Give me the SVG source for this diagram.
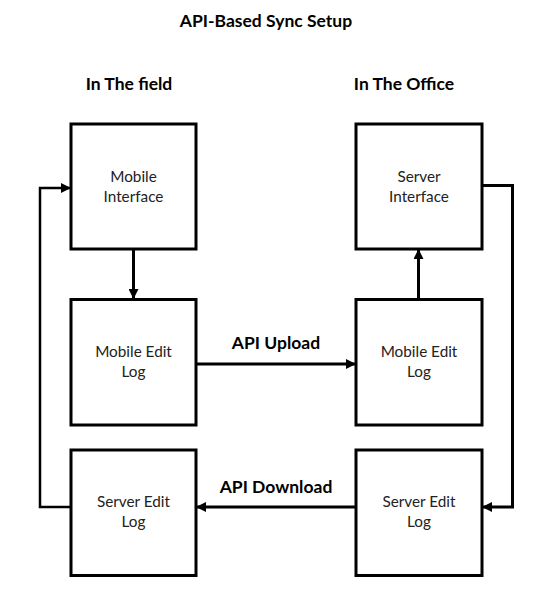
<svg xmlns="http://www.w3.org/2000/svg" width="542" height="595" viewBox="0 0 542 595">
<style>
.box{fill:#fff;stroke:#000;stroke-width:3}
.lbl{font-family:Lato,"Noto Sans",sans-serif;font-size:15.3px;fill:#222;text-anchor:middle}
.hd{font-family:Lato,"Noto Sans",sans-serif;font-weight:bold;font-size:17.5px;fill:#000;text-anchor:middle}
.ln{fill:none;stroke:#000;stroke-width:3;marker-end:url(#ah)}
</style>
<defs>
<marker id="ah" viewBox="0 0 10 10" refX="10" refY="5" markerWidth="10" markerHeight="10" markerUnits="userSpaceOnUse" orient="auto">
<path d="M0,0 L10,5 L0,10 z" fill="#000"/>
</marker>
</defs>
<text class="hd" x="266" y="27">API-Based Sync Setup</text>
<text class="hd" x="129" y="90">In The field</text>
<text class="hd" x="404" y="90">In The Office</text>
<g id="connectors">
<path class="ln" d="M133.5,249 V299"/>
<path class="ln" d="M418.5,299 V249"/>
<path class="ln" d="M196,364 H356"/>
<path class="ln" d="M356,507 H196"/>
<path class="ln" d="M71,507 H40 V188 H71" style="stroke-width:2.5"/>
<path class="ln" d="M482,185.5 H512.5 V507 H482"/>
<text class="hd" x="276" y="349">API Upload</text>
<text class="hd" x="276" y="493">API Download</text>
</g>
<g id="mobile-interface"><rect class="box" x="71" y="124" width="125" height="125"/><text class="lbl" x="133.5" y="182">Mobile</text><text class="lbl" x="133.5" y="202">Interface</text></g>
<g id="server-interface"><rect class="box" x="356" y="124" width="126" height="125"/><text class="lbl" x="419" y="182">Server</text><text class="lbl" x="419" y="202">Interface</text></g>
<g id="mobile-edit-log-field"><rect class="box" x="71" y="299.5" width="125" height="125.5"/><text class="lbl" x="133.5" y="357">Mobile Edit</text><text class="lbl" x="133.5" y="377">Log</text></g>
<g id="mobile-edit-log-office"><rect class="box" x="356" y="299.5" width="126" height="125.5"/><text class="lbl" x="419" y="357">Mobile Edit</text><text class="lbl" x="419" y="377">Log</text></g>
<g id="server-edit-log-field"><rect class="box" x="71" y="450" width="125" height="125.5"/><text class="lbl" x="133.5" y="507">Server Edit</text><text class="lbl" x="133.5" y="527">Log</text></g>
<g id="server-edit-log-office"><rect class="box" x="356" y="450" width="126" height="125.5"/><text class="lbl" x="419" y="507">Server Edit</text><text class="lbl" x="419" y="527">Log</text></g>
</svg>
